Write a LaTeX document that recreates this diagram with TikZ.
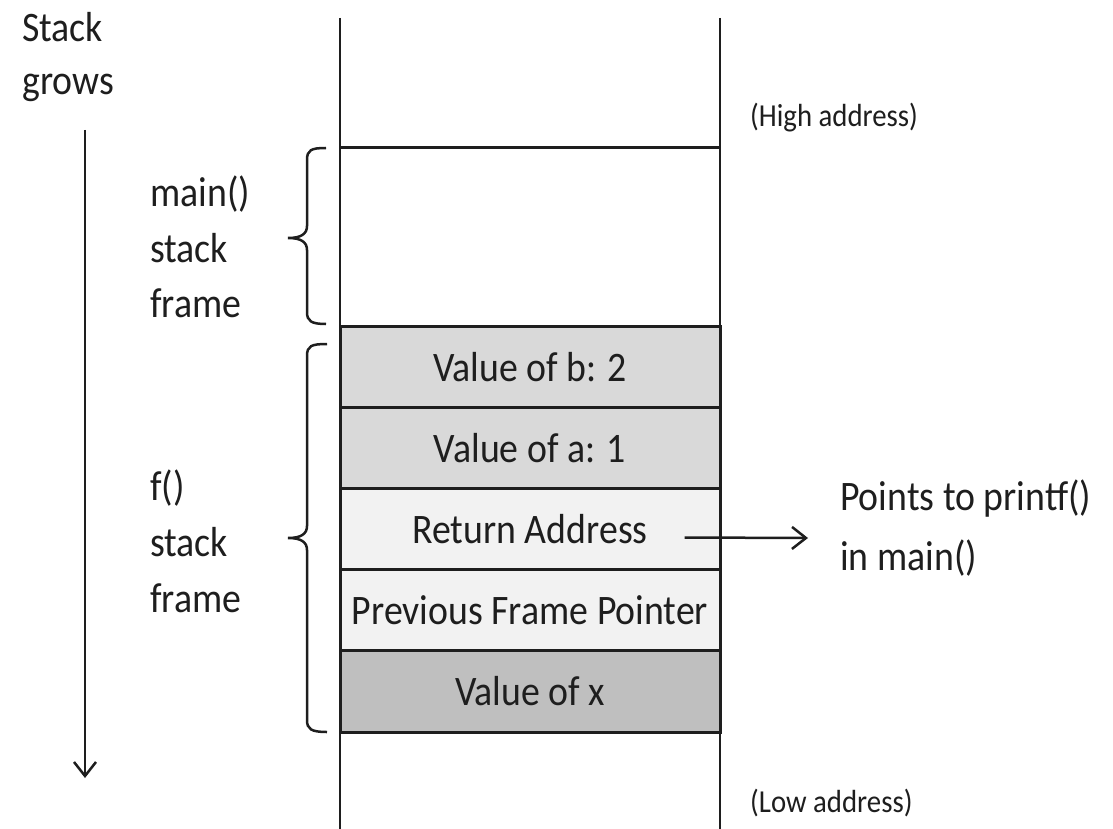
\documentclass[tikz,border=0pt]{standalone}
\usepackage{fontspec}
\setmainfont{Carlito}[FakeStretch=0.9]
\usetikzlibrary{arrows.meta}
\definecolor{ink}{HTML}{1E1E1E}
\definecolor{midgray}{HTML}{D9D9D9}
\definecolor{lightgray}{HTML}{F2F2F2}
\definecolor{darkgray}{HTML}{BFBFBF}
\begin{document}
\begin{tikzpicture}[x=1pt,y=-1pt,
  rail/.style={line width=2.5pt, draw=ink},
  cellbox/.style={draw=ink, line width=3pt, minimum width=380pt, minimum height=81.2pt, inner sep=0pt, text=ink, font=\fontsize{42}{50}\selectfont},
  lbl/.style={anchor=base west, inner sep=0pt, text=ink, font=\fontsize{42}{50}\selectfont},
  addr/.style={anchor=base west, inner sep=0pt, text=ink, font=\fontsize{32}{38}\selectfont},
  bracepath/.style={line width=2.5pt, draw=ink},
  arr/.style={line width=2.5pt, draw=ink, -{Straight Barb[length=14pt,width=22pt,line width=2.5pt]}}]
\useasboundingbox (0,0) rectangle (1113,829);
% cells
\node[cellbox, fill=midgray]   (b)   at (530,366.6) {Value of b: 2};
\node[cellbox, fill=midgray]   (a)   at (530,447.8) {Value of a: 1};
\node[cellbox, fill=lightgray] (ret) at (530,529.0) {Return Address};
\node[cellbox, fill=lightgray] (pfp) at (530,610.2) {Previous Frame Pointer};
\node[cellbox, fill=darkgray]  (x)   at (530,691.4) {Value of x};
% rails
\coordinate (lt) at (340,18); \coordinate (lb) at (340,829);
\coordinate (rt) at (720,18); \coordinate (rb) at (720,829);
\draw[rail] (lt) -- (lb);
\draw[rail] (rt) -- (rb);
\coordinate (ml) at (340,148); \coordinate (mr) at (720,148);
\draw[rail, line width=3pt] (ml) -- (mr);
% braces
\draw[bracepath] (326,148) .. controls (311,148) and (307,150) .. (307,160) -- (307,226)
  .. controls (307,234) and (301,238) .. (288,238) .. controls (301,238) and (307,242) .. (307,250)
  -- (307,312) .. controls (307,321) and (311,324) .. (326,324);
\draw[bracepath] (327,344) .. controls (311,344) and (307,346) .. (307,356) -- (307,526)
  .. controls (307,534) and (301,538) .. (288,538) .. controls (301,538) and (307,542) .. (307,550)
  -- (307,720) .. controls (307,729) and (311,732) .. (327,732);
% stack grows
\node[lbl] (s1) at (22,42) {Stack};
\node[lbl] (s2) at (22,95) {grows};
\coordinate (gtop) at (85,130);
\coordinate (gbot) at (85,778);
\draw[arr] (gtop) -- (gbot);
% frame labels
\node[lbl] (m1) at (150,207) {main()};
\node[lbl] (m2) at (150,262) {stack};
\node[lbl] (m3) at (150,317) {frame};
\node[lbl] (f1) at (150,500) {f()};
\node[lbl] (f2) at (150,556) {stack};
\node[lbl] (f3) at (150,612) {frame};
% addresses
\node[addr] (hi) at (750,127) {(High address)};
\node[addr] (lo) at (750,812) {(Low address)};
% pointer
\node[lbl] (p1) at (840,510) {Points to printf()};
\node[lbl] (p2) at (840,570) {in main()};
\coordinate (ptr) at (808,538);
\draw[arr] ([xshift=-37pt,yshift=-8.5pt]ret.east) -- (ptr);
\end{tikzpicture}
\end{document}
